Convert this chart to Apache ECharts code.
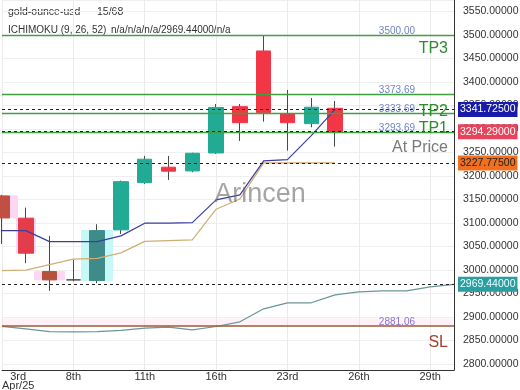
<!DOCTYPE html>
<html><head><meta charset="utf-8">
<script src="https://cdn.jsdelivr.net/npm/echarts@6/dist/echarts.min.js"></script>
<style>html,body{margin:0;padding:0;background:#fff}#c{width:520px;height:390px}</style>
</head><body><div id="c"></div>
<script>
const categories = ['3rd','4th','7th','8th','9th','10th','11th','14th','15th','16th','17th','22nd','23rd','24th','25th','26th','27th','28th','29th','30th'];
const candleOpen  = [3157.6, 3110.2, 2996.6, 2979.0, 2977.5, 3085.3, 3185.9, 3218.7, 3210.8, 3249.0, 3347.5, 3466.0, 3332.0, 3311.4, 3344.1];
const candleClose = [3110.8, 3035.8, 2979.0, 2979.0, 3083.8, 3188.0, 3235.7, 3210.2, 3248.4, 3345.8, 3313.5, 3334.8, 3313.5, 3346.3, 3294.29];
const candleLow   = [3055.5, 3014.5, 2955.6, 2975.8, 2971.9, 3076.8, 3183.1, 3191.7, 3208.0, 3247.0, 3274.6, 3315.6, 3254.0, 3303.7, 3262.5];
const candleHigh  = [3160.0, 3132.7, 3072.6, 3021.5, 3097.4, 3190.2, 3242.7, 3242.7, 3249.5, 3353.3, 3353.3, 3500.0, 3383.1, 3366.0, 3359.7];
const tenkan = [3083.8, 3083.8, 3060.4, 3060.4, 3060.4, 3072.6, 3099.6, 3099.6, 3100.9, 3149.1, 3159.8, 3232.1, 3234.8, 3285.9, 3341.725];
const kijun  = [2998.8, 2999.6, 3011.3, 3023.0, 3024.7, 3036.4, 3060.9, 3062.6, 3064.1, 3129.3, 3151.2, 3227.775, 3227.775, 3227.775, 3227.775];
const senkou = [2880.0, 2874.8, 2869.0, 2868.5, 2869.0, 2871.6, 2876.3, 2878.4, 2872.6, 2879.7, 2889.7, 2917.4, 2930.2, 2930.2, 2947.2, 2953.6, 2955.7, 2955.7, 2964.2, 2969.44];
const pinkWideIdx = [0, 2];
const pinkNarrowIdx = [1];
const cyanIdx = [4];
const dojiIdx = [3];
const targetValues = [3500, 3373.69, 3333.69, 3293.69];
const targetNames = ['TP3', '', 'TP2', 'TP1'];
const stopLoss = 2881.06;
const stopZoneTop = 2897;
const markerValues = [3341.725, 3294.29, 3227.775, 2969.44];
const yMin = 2787.2, yMax = 3574.5;

const mutedColor = {0: '#c24f43', 1: '#e23d48', 2: '#b5513d', 4: '#3f8b89'};
const markerStyles = [
  {bg: '#1a1aa8', fg: '#ffffff'},
  {bg: '#e8435a', fg: '#ffffff'},
  {bg: '#f07020', fg: '#222222'},
  {bg: '#2d9ea0', fg: '#e8ffff'}
];
const targetDist = [[6, 6, 'insideEndBottom'], null, [6, -6, 'insideEndTop'], [6, -5, 'insideEndTop']];

const n = candleOpen.length;
const idx = Array.from({length: n}, (_, i) => i);
const bodyData = idx.map(i => {
  const o = candleOpen[i], c = candleClose[i];
  const item = {value: [o, c, Math.min(o, c), Math.max(o, c)]};
  if (mutedColor[i]) item.itemStyle = {color: mutedColor[i], color0: mutedColor[i], borderColor: mutedColor[i], borderColor0: mutedColor[i]};
  if (dojiIdx.includes(i)) item.itemStyle = {color: '#4a4a4a', color0: '#4a4a4a', borderColor: '#4a4a4a', borderColor0: '#4a4a4a'};
  return item;
});
const wickData = idx.map(i => [candleOpen[i], candleClose[i], candleLow[i], candleHigh[i]]);
function hlData(list) {
  return idx.map(i => {
    if (!list.includes(i)) return ['-', '-', '-', '-'];
    const o = candleOpen[i], c = candleClose[i];
    return [o, c, Math.min(o, c), Math.max(o, c)];
  });
}

const hidden = {color: 'rgba(0,0,0,0)', width: 1};
const markData = [];
targetValues.forEach((v, i) => {
  markData.push({yAxis: v, lineStyle: {color: '#3da13d', width: 1.4, type: 'solid'},
    label: {show: true, position: 'insideEndTop', formatter: v.toFixed(2), color: '#6f82c6', fontSize: 10, distance: [39, -1]}});
  if (targetNames[i]) {
    const d = targetDist[i];
    markData.push({yAxis: v, lineStyle: hidden,
      label: {show: true, position: d[2], formatter: targetNames[i], color: '#2e8b2e', fontSize: 16, distance: [d[0], d[1]]}});
  }
});
markData.push({yAxis: stopLoss, lineStyle: {color: '#9a5a3a', width: 1.5, type: 'solid'},
  label: {show: true, position: 'insideEndTop', formatter: stopLoss.toFixed(2), color: '#8a74cf', fontSize: 10, distance: [39, -1]}});
markData.push({yAxis: stopLoss, lineStyle: hidden,
  label: {show: true, position: 'insideEndBottom', formatter: 'SL', color: '#a0412d', fontSize: 16, distance: [6, 9]}});
markerValues.forEach((v, i) => {
  markData.push({yAxis: v, lineStyle: {color: '#222', width: 1, type: [3, 3]},
    label: {show: true, position: 'end', formatter: v.toFixed(5), color: markerStyles[i].fg, backgroundColor: markerStyles[i].bg,
      padding: [2, 2], fontSize: 10.5, distance: 4}});
});
markData.push({yAxis: markerValues[1], lineStyle: hidden,
  label: {show: true, position: 'insideEndBottom', formatter: 'At Price', color: '#7a7a7a', fontSize: 16, distance: [6, 8]}});

const chart = echarts.init(document.getElementById('c'));
chart.setOption({
  animation: false,
  backgroundColor: '#ffffff',
  textStyle: {fontFamily: 'Liberation Sans, Arial, sans-serif'},
  grid: {left: 2, right: 66, top: 0, bottom: 20, outerBoundsMode: 'none', containLabel: false},
  xAxis: {
    type: 'category', data: categories, boundaryGap: false,
    axisLine: {show: true, lineStyle: {color: '#333', width: 1}},
    axisTick: {show: false},
    axisLabel: {
      interval: 2, color: '#333', fontSize: 11, margin: 2, lineHeight: 9, alignMinLabel: 'left',
      formatter: (v, i) => i === 0 ? '{c|' + v + '}\n{c|Apr/25}' : v,
      rich: {c: {align: 'center', fontSize: 11, color: '#333', lineHeight: 9}}
    },
    splitLine: {show: true, interval: 2, lineStyle: {color: '#ebebeb'}}
  },
  yAxis: {
    type: 'value', position: 'right', min: yMin, max: yMax, splitNumber: 16,
    axisLine: {show: true, lineStyle: {color: '#333', width: 1}},
    axisTick: {show: false},
    axisLabel: {formatter: v => v.toFixed(5), color: '#333', fontSize: 10.5, margin: 9, showMinLabel: false, showMaxLabel: false},
    splitLine: {show: true, lineStyle: {color: '#efefef'}}
  },
  graphic: [
    {type: 'text', left: 8, top: 7, style: {text: 'gold-ounce-usd', fontSize: 10.5, fill: '#333', fontFamily: 'Liberation Sans'}},
    {type: 'text', left: 97, top: 7, style: {text: '15/68', fontSize: 10.5, fill: '#333', fontFamily: 'Liberation Sans'}},
    {type: 'text', left: 8, top: 25, style: {text: 'ICHIMOKU (9, 26, 52)', fontSize: 10, fill: '#333', fontFamily: 'Liberation Sans'}},
    {type: 'text', left: 111, top: 25, style: {text: 'n/a/n/a/n/a/2969.44000/n/a', fontSize: 10, fill: '#333', fontFamily: 'Liberation Sans'}},
    {type: 'text', left: 'center', top: 181, z: 100, style: {text: 'Arincen', fontSize: 27, fill: 'rgba(105,105,105,0.6)', fontFamily: 'Liberation Sans'}}
  ],
  series: [
    {type: 'candlestick', name: 'hlPink', data: hlData(pinkWideIdx), barWidth: 31, silent: true,
      itemStyle: {color: '#fcd6f2', color0: '#fcd6f2', borderColor: '#fcd6f2', borderColor0: '#fcd6f2'}},
    {type: 'candlestick', name: 'hlPink2', data: hlData(pinkNarrowIdx), barWidth: 19, silent: true,
      itemStyle: {color: '#fcd6f2', color0: '#fcd6f2', borderColor: '#fcd6f2', borderColor0: '#fcd6f2'}},
    {type: 'candlestick', name: 'hlCyan', data: hlData(cyanIdx), barWidth: 31, silent: true,
      itemStyle: {color: '#c6f8f8', color0: '#c6f8f8', borderColor: '#c6f8f8', borderColor0: '#c6f8f8'}},
    {type: 'candlestick', name: 'wick', data: wickData, barWidth: 1,
      itemStyle: {color: '#4a4a4a', color0: '#4a4a4a', borderColor: '#4a4a4a', borderColor0: '#4a4a4a', borderWidth: 1}},
    {type: 'candlestick', name: 'body', data: bodyData, barWidth: 15,
      itemStyle: {color: '#22ab94', color0: '#f23645', borderColor: '#22ab94', borderColor0: '#f23645', borderWidth: 1}},
    {type: 'line', name: 'kijun', data: kijun, symbol: 'none', lineStyle: {color: '#cfae74', width: 1.2}},
    {type: 'line', name: 'tenkan', data: tenkan, symbol: 'none', lineStyle: {color: '#3d3d9e', width: 1.2}},
    {type: 'line', name: 'senkou', data: senkou, symbol: 'none', lineStyle: {color: '#6a9696', width: 1.2},
      markArea: {silent: true, itemStyle: {color: 'rgba(255,190,215,0.22)'}, data: [[{yAxis: stopLoss}, {yAxis: stopZoneTop}]]},
      markLine: {silent: true, symbol: ['none', 'none'], animation: false, data: markData}}
  ]
});
</script>
</body></html>
